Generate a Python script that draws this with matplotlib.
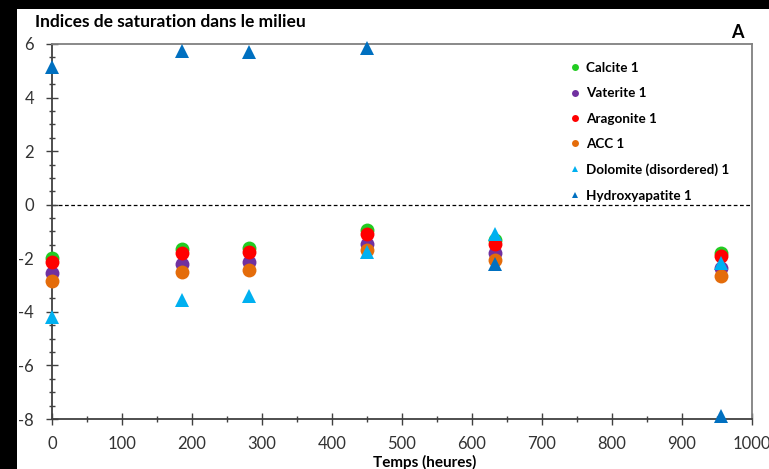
import matplotlib
matplotlib.use("Agg")
import matplotlib.pyplot as plt
from matplotlib.patches import Rectangle
from matplotlib.ticker import MultipleLocator

plt.rcParams['font.family'] = ['Lato', 'DejaVu Sans']

temps = [0, 186, 282, 450, 633, 955]
calcite = [-2.0, -1.65, -1.6, -0.95, -1.3, -1.8]
vaterite = [-2.55, -2.2, -2.15, -1.45, -1.8, -2.36]
aragonite = [-2.15, -1.8, -1.75, -1.1, -1.45, -1.9]
acc = [-2.85, -2.5, -2.45, -1.7, -2.05, -2.65]
dolomite = [-4.2, -3.55, -3.4, -1.75, -1.08, -2.17]
hydroxyapatite = [5.15, 5.75, 5.7, 5.85, -2.2, -7.9]

labels = ["Calcite 1", "Vaterite 1", "Aragonite 1", "ACC 1",
          "Dolomite (disordered) 1", "Hydroxyapatite 1"]
series = [calcite, vaterite, aragonite, acc, dolomite, hydroxyapatite]
colors = ["#22cc22", "#7030a0", "#ff0000", "#e46c0a", "#00b0f0", "#0070c0"]
markers = ["o", "o", "o", "o", "^", "^"]

fig = plt.figure(figsize=(7.69, 4.69), dpi=100, facecolor="white")
fig.patches.append(Rectangle((0, 0), 17 / 769, 1, transform=fig.transFigure,
                             facecolor="black", edgecolor="none", zorder=-10))
fig.patches.append(Rectangle((0, 1 - 9 / 469), 1, 9 / 469, transform=fig.transFigure,
                             facecolor="black", edgecolor="none", zorder=-10))
ax = fig.add_axes([52 / 769, 1 - 419 / 469, (752 - 52) / 769, (419 - 44) / 469])
ax.set_facecolor("white")

for vals, lab, c, m in zip(series, labels, colors, markers):
    ax.plot(temps, vals, linestyle="none", marker=m, markersize=10 if m == "o" else 9.5,
            color=c, markeredgewidth=0, label=lab, clip_on=False, zorder=3)

ax.axhline(0, color="black", linestyle=(0, (3, 2)), linewidth=0.9, zorder=1)

ax.set_xlim(0, 1000)
ax.set_ylim(-8, 6)
ax.xaxis.set_major_locator(MultipleLocator(100))
ax.xaxis.set_minor_locator(MultipleLocator(50))
ax.yaxis.set_major_locator(MultipleLocator(2))
ax.yaxis.set_minor_locator(MultipleLocator(0.5))
ax.tick_params(which="both", direction="inout", color="#404040", width=1)
ax.tick_params(which="major", length=8, labelsize=12, labelcolor="#333333")
ax.tick_params(axis="x", which="major", pad=8)
ax.tick_params(axis="y", which="major", pad=9)
ax.tick_params(which="minor", length=5)
ax.set_yticks([-8, -6, -4, -2, 0, 2, 4, 6])
ax.set_yticklabels(["-8", "-6", "-4", "-2", "0", "2", "4", "6"])
for s in ax.spines.values():
    s.set_color("#808080")
    s.set_linewidth(1.3)
ax.spines["left"].set_color("#404040")
ax.spines["bottom"].set_color("#404040")

ax.legend(loc="upper right", bbox_to_anchor=(0.985, 0.985), frameon=False,
          markerscale=0.5, handlelength=0.6, handletextpad=0.5,
          labelspacing=1.0, prop={"weight": "bold", "size": 9.7})

ax.set_xlabel("Temps (heures)", fontsize=11, fontweight="bold")
ax.xaxis.set_label_coords((425 - 52) / 700, -(462 - 419) / 375, transform=ax.transAxes)
ax.xaxis.label.set_verticalalignment("center")
fig.text(35 / 769, 1 - 22 / 469, "Indices de saturation dans le milieu",
         fontsize=12.5, fontweight="bold", va="center", ha="left")
fig.text(737 / 769, 1 - 33 / 469, "A", fontsize=13, fontweight="bold",
         va="center", ha="center")

fig.savefig("out.png", dpi=100)
